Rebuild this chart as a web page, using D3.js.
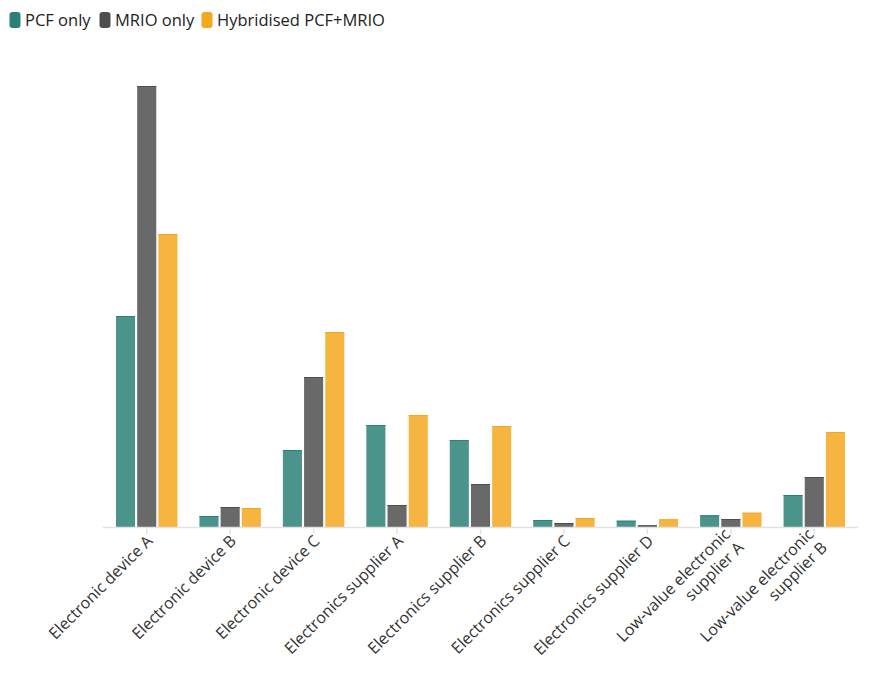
<!DOCTYPE html>
<html lang="en">
<head>
<meta charset="UTF-8">
<title>PCF vs MRIO vs Hybridised</title>
<script src="https://d3js.org/d3.v7.min.js"></script>
<style>
    body { margin: 0; background: #fff; font-family: 'Open Sans', sans-serif; }
    svg { display: block; }
    svg text { font-family: 'Open Sans', sans-serif; }
</style>
</head>
<body>
<div id="chart"></div>
<script>
    // Categories and series (arbitrary units)
    const categories = [
        "Electronic device A",
        "Electronic device B",
        "Electronic device C",
        "Electronics supplier A",
        "Electronics supplier B",
        "Electronics supplier C",
        "Electronics supplier D",
        "Low-value electronic|supplier A",
        "Low-value electronic|supplier B"
    ];
    const seriesNames = ["PCF only", "MRIO only", "Hybridised PCF+MRIO"];
    const pcfOnly    = [211, 11, 77, 102, 87, 7, 6.3, 11.7, 32];
    const mrioOnly   = [441, 20, 150, 22, 43, 4, 1.7, 8, 50];
    const hybridised = [293, 19, 195, 112, 101, 9, 7.7, 14.3, 95];
    const seriesValues = [pcfOnly, mrioOnly, hybridised];
    const colors = ["#2b8178", "#4f4f4f", "#f4a820"];

    const width = 895, height = 685;
    const svg = d3.select("#chart").append("svg")
        .attr("width", width).attr("height", height);

    // legend
    const legend = svg.append("g").attr("transform", "translate(9.5,12)");
    const legX = [0, 90, 192];
    seriesNames.forEach((name, i) => {
        const g = legend.append("g").attr("transform", `translate(${legX[i]},0)`);
        g.append("rect").attr("width", 11).attr("height", 16).attr("rx", 3)
            .attr("fill", colors[i]);
        g.append("text").attr("x", 15.5).attr("y", 14)
            .attr("font-size", 16.5).attr("fill", "#222").text(name);
    });

    const x = d3.scaleBand().domain(categories).range([105, 856]);
    const xSub = d3.scaleBand().domain(seriesNames).range([11, x.bandwidth() - 11]).paddingInner(0.1);
    const y = d3.scaleLinear().domain([0, 441]).range([527, 86]);

    // bars
    seriesNames.forEach((name, si) => {
        const g = svg.append("g");
        g.selectAll("rect").data(seriesValues[si]).join("rect")
            .attr("x", (d, i) => x(categories[i]) + xSub(name))
            .attr("y", d => y(d))
            .attr("width", xSub.bandwidth())
            .attr("height", d => y(0) - y(d))
            .attr("fill", colors[si]).attr("fill-opacity", 0.85);
        g.selectAll("line").data(seriesValues[si]).join("line")
            .attr("x1", (d, i) => x(categories[i]) + xSub(name))
            .attr("x2", (d, i) => x(categories[i]) + xSub(name) + xSub.bandwidth())
            .attr("y1", d => y(d) + 0.5).attr("y2", d => y(d) + 0.5)
            .attr("stroke", colors[si]).attr("stroke-width", 1);
    });

    // x axis
    const axis = svg.append("g").attr("transform", `translate(0,${y(0)})`)
        .call(d3.axisBottom(x).tickSize(7).tickSizeOuter(0).tickFormat(""));
    axis.attr("font-family", null);
    axis.select(".domain").attr("stroke", "#e2e2e2").attr("stroke-width", 1.5)
        .attr("d", "M103,0.5H858");
    axis.selectAll(".tick line").attr("stroke", "#e2e2e2").attr("stroke-width", 1.5).attr("y1", 2);

    axis.selectAll(".tick").each(function(d) {
        const lines = d.split("|");
        const t = d3.select(this).append("text")
            .attr("fill", "#333").attr("font-size", 16)
            .attr("text-anchor", "end")
            .attr("transform", "translate(7,15) rotate(-45)");
        lines.forEach((ln, i) => {
            t.append("tspan").attr("x", 0)
                .attr("y", (i - (lines.length - 1) / 2) * 19)
                .text(ln);
        });
    });
</script>
</body>
</html>
